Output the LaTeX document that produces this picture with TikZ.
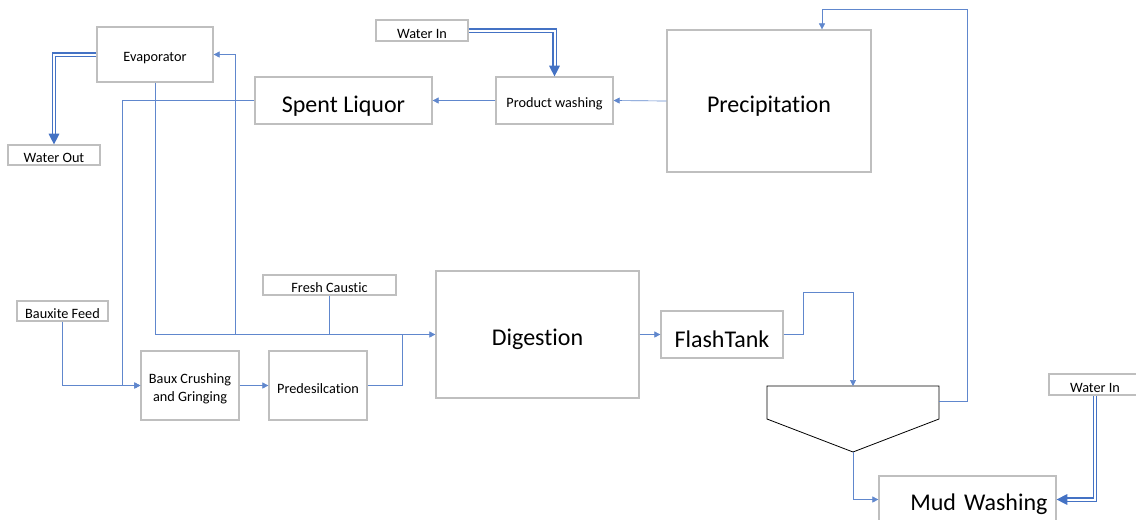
\documentclass[tikz,border=0pt]{standalone}
\usepackage{fontspec}
\setmainfont{Carlito}[Ligatures=NoCommon]
\usetikzlibrary{arrows.meta}
\definecolor{pipeblue}{RGB}{68,114,196}
\definecolor{boxgray}{RGB}{191,191,191}
\tikzset{
  unit/.style={draw=boxgray, line width=0.9pt, fill=white, inner sep=0pt, align=center,
    font=\fontsize{10.7}{13.5}\selectfont, execute at begin node={\rule{0pt}{1.12em}}},
  bigunit/.style={unit, font=\fontsize{18}{22}\selectfont, execute at begin node={\rule{0pt}{0.95em}}},
  link/.style={draw=pipeblue!85, line width=0.5pt},
  flow/.style={link, -{Triangle[length=4.5pt,width=4.5pt]}},
  water/.style={draw=pipeblue, double=white, double distance=1.5pt, line width=0.8pt, -{Triangle[length=8pt,width=8pt]}},
  tank/.style={draw=black, line width=0.6pt},
}

\begin{document}
\begin{tikzpicture}[x=0.75pt, y=-0.75pt]
		\useasboundingbox (0,0) rectangle (1136,519);

		\node[unit, minimum width=87pt, minimum height=41.25pt] (evap) at (155,54.5) {Evaporator};
		\node[unit, minimum width=69pt, minimum height=15pt] (wout) at (54,155) {Water Out};
		\node[bigunit, minimum width=132.75pt, minimum height=35.25pt] (spent) at (343.5,100.5) {Spent Liquor};
		\node[unit, minimum width=69pt, minimum height=15.75pt] (winA) at (422,30.5) {Water In};
		\node[unit, minimum width=87.75pt, minimum height=35.25pt] (pwash) at (554.5,100.5) {Product washing};
		\node[bigunit, minimum width=153pt, minimum height=106.5pt] (precip) at (769,101) {Precipitation};

		\node[unit, minimum width=99.75pt, minimum height=15pt] (fresh) at (329.5,285) {Fresh Caustic};
		\node[unit, minimum width=68.25pt, minimum height=15pt] (bfeed) at (62.5,311) {Bauxite Feed};
		\node[unit, minimum width=73.5pt, minimum height=51.75pt] (crush) at (190,385.5) {\rule{0pt}{1.15em}Baux Crushing\\and Gringing};
		\node[unit, minimum width=73.5pt, minimum height=51.75pt] (predes) at (318,385.5) {Predesilcation};
		\node[bigunit, minimum width=152.25pt, minimum height=95.25pt] (digest) at (537.5,334.5) {Digestion};
		\node[bigunit, minimum width=91.5pt, minimum height=35.25pt] (flash) at (722,334.5) {FlashTank};

		\node[bigunit, minimum width=132.75pt, minimum height=35.25pt, text width=120pt, align=right] (mud) at (967.5,499.5) {Mud Washing};
		\node[unit, minimum width=69pt, minimum height=15.75pt] (winB) at (1095,384.5) {Water In};

		% thickener
		\draw[tank] (767,386) -- (939,386) -- (939,419) -- (853,452) -- (767,419) -- cycle;
		\coordinate (thTop) at (853,386);
		\coordinate (thRight) at (939,401);
		\coordinate (thBot) at (853,452);

		\coordinate (jEvap) at (235,334.5);
		\coordinate (jPre) at (402,334.5);

		\draw[water] (evap.west) -| (wout.north);
		\draw[water] (winA.east) -| (pwash.north);
		\draw[water] (winB.south) |- (mud.east);

		\draw[flow] (precip.west) -- (pwash.east);
		\draw[flow] (pwash.west) -- (spent.east);
		\draw[flow] (spent.west) -- ++(-132,0) |- (crush.west);  % recycle liquor
		\draw[flow] (bfeed.south) |- (crush.west);
		\draw[flow] (crush.east) -- (predes.west);
		\draw[link] (predes.east) -| (jPre);
		\draw[link] (fresh.south) -- (fresh.south |- digest.west);
		\draw[flow] (evap.south) |- (digest.west);
		\draw[flow] (jEvap) |- (evap.east);
		\draw[flow] (digest.east) -- (flash.west);
		\draw[flow] (flash.east) -| (803,292) -| (thTop);
		\draw[flow] (thRight) -| (967,9) -| ([xshift=39.75pt]precip.north);  % overflow
		\draw[flow] (thBot) |- (mud.west);
	\end{tikzpicture}
\end{document}
